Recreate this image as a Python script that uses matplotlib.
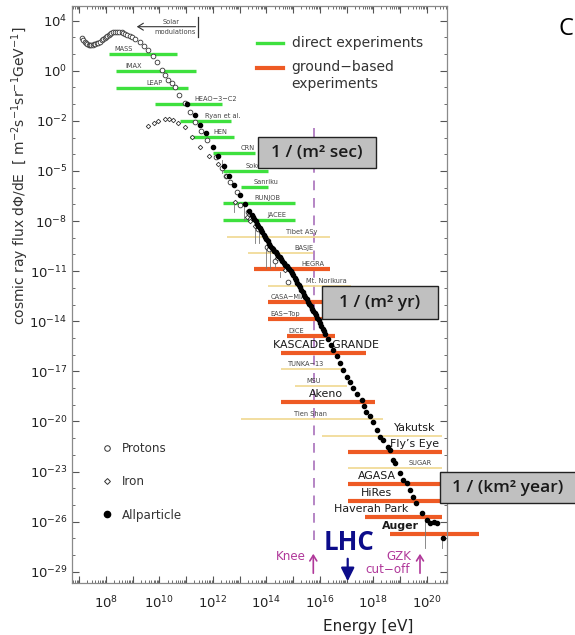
import matplotlib
matplotlib.use("Agg")
import matplotlib.pyplot as plt
import numpy as np
from matplotlib.patches import Rectangle
from matplotlib.lines import Line2D

plt.rcParams['font.family'] = ['DejaVu Sans']

# ---------------- data (log10 values) ----------------
proton_logE = [7.09, 7.15, 7.2, 7.25, 7.3, 7.35, 7.40, 7.45, 7.5, 7.55, 7.6, 7.65, 7.7, 7.78,
               7.85, 7.9, 7.95, 8.0, 8.05, 8.1, 8.15, 8.2, 8.27, 8.34, 8.42, 8.5, 8.58, 8.65,
               8.72, 8.8, 8.88, 8.96, 9.1, 9.27, 9.42, 9.58, 9.75, 9.90, 10.08, 10.2, 10.33,
               10.45, 10.58, 10.74, 10.95, 11.14, 11.33, 11.55, 11.76, 12.11, 12.32, 12.48,
               12.64, 12.88, 13.0, 13.32, 13.38, 13.63, 13.7, 14.03, 14.08, 14.32, 14.82]
proton_logF = [2.95, 2.85, 2.72, 2.65, 2.58, 2.55, 2.54, 2.55, 2.56, 2.6, 2.62, 2.66, 2.68, 2.74,
               2.82, 2.9, 2.98, 3.05, 3.1, 3.15, 3.2, 3.25, 3.3, 3.34, 3.33, 3.32, 3.3, 3.25,
               3.2, 3.15, 3.1, 3.04, 2.9, 2.74, 2.5, 2.25, 1.9, 1.54, 1.05, 0.75, 0.45,
               0.25, 0.01, -0.45, -0.95, -1.45, -2.05, -2.6, -3.14, -4.14, -4.84, -5.3,
               -5.64, -6.24, -7.04, -7.44, -7.83, -8.23, -8.5, -9.53, -9.7, -10.37, -11.63]

iron_logE = [9.58, 9.8, 9.96, 10.2, 10.35, 10.5, 10.7, 10.95, 11.2, 11.51, 11.86, 12.2,
             12.5, 12.84, 13.26, 13.4, 13.57, 14.07, 14.4, 14.7]
iron_logF = [-2.3, -2.1, -1.99, -1.9, -1.9, -1.95, -2.1, -2.35, -2.95, -3.54, -4.08, -4.6,
             -5.3, -6.84, -7.74, -8.0, -8.3, -9.13, -10.2, -10.9]

all_logE = [11.02, 11.33, 11.51, 11.73, 12.01, 12.2, 12.4, 12.6, 12.8, 13.0, 13.2, 13.35,
            13.45, 13.5, 13.55, 13.6, 13.65, 13.7, 13.75, 13.8, 13.85, 13.9, 13.95, 14.0,
            14.05, 14.1, 14.15, 14.2, 14.25, 14.3, 14.35, 14.4, 14.45, 14.5, 14.55, 14.6,
            14.65, 14.7, 14.75, 14.8, 14.85, 14.9, 14.95, 15.0, 15.05, 15.1, 15.15, 15.2,
            15.25, 15.3, 15.35, 15.4, 15.45, 15.5, 15.55, 15.6, 15.65, 15.7, 15.75, 15.8,
            15.85, 15.9, 15.95, 16.0, 16.05, 16.1, 16.15, 16.2, 16.3, 16.4, 16.5, 16.62,
            16.74, 16.87, 17.0, 17.12, 17.24, 17.4, 17.56, 17.65, 17.74, 17.87, 17.99,
            18.12, 18.24, 18.37, 18.55, 18.62, 18.74, 18.8, 18.99, 19.11, 19.24, 19.36,
            19.49, 19.61, 19.8, 19.99, 20.12, 20.25, 20.36, 20.61]
all_logF = [-0.99, -1.65, -2.25, -2.74, -3.54, -4.1, -4.7, -5.3, -5.85, -6.45, -6.95, -7.4,
            -7.65, -7.78, -7.9, -8.0, -8.15, -8.28, -8.42, -8.55, -8.68, -8.82, -8.96, -9.1,
            -9.22, -9.36, -9.48, -9.6, -9.69, -9.78, -9.88, -9.97, -10.08, -10.18, -10.28,
            -10.38, -10.49, -10.6, -10.69, -10.78, -10.87, -10.97, -11.1, -11.25, -11.4,
            -11.55, -11.68, -11.82, -11.96, -12.1, -12.25, -12.4, -12.54, -12.68, -12.82,
            -12.97, -13.1, -13.24, -13.37, -13.5, -13.64, -13.78, -13.94, -14.1, -14.27,
            -14.45, -14.6, -14.78, -15.08, -15.4, -15.72, -16.1, -16.51, -16.9, -17.31,
            -17.65, -18.0, -18.35, -18.71, -19.05, -19.41, -19.7, -20.01, -20.51, -20.9,
            -21.11, -21.51, -21.71, -22.31, -22.5, -23.1, -23.5, -23.7, -24.1, -24.5,
            -24.9, -25.5, -25.9, -26.1, -26.0, -26.1, -27.0]

# error bars: logE, top, bottom
err_logE = [12.32, 12.78, 13.16, 13.57, 13.72, 14.0, 14.13, 14.32, 14.5, 19.93, 20.57]
err_top = [-4.34, -6.84, -7.14, -8.23, -8.53, -9.53, -9.53, -10.33, -11.03, -25.9, -27.0]
err_bot = [-5.12, -7.44, -7.94, -9.33, -9.33, -10.83, -10.83, -10.73, -11.33, -27.6, -27.6]

# experiments: name, kind, logE min, logE max, logF, label logE
exp_names = ["MASS", "IMAX", "LEAP", "HEAO\u22123\u2212C2", "Ryan et al.", "HEN", "CRN",
             "Sokol", "Sanriku", "RUNJOB", "JACEE", "Tibet AS\u03b3", "BASJE", "HEGRA",
             "Mt. Norikura", "CASA\u2212MIA", "EAS\u2212Top", "DICE", "KASCADE  GRANDE",
             "TUNKA\u221213", "MSU", "Akeno", "Tien Shan", "Yakutsk", "Fly\u2019s Eye",
             "SUGAR", "AGASA", "HiRes", "Haverah Park", "Auger"]
exp_kind = ["d", "d", "d", "d", "d", "d", "d", "d", "d", "d", "d", "o", "o", "g",
            "o", "g", "g", "g", "g", "o", "o", "g", "o", "o", "g", "o", "g", "g", "g", "g"]
exp_emin = [8.12, 8.37, 8.37, 9.83, 10.77, 11.14, 11.99, 12.36, 13.05, 12.36, 12.36, 12.53,
            13.32, 13.54, 14.07, 14.07, 14.07, 14.75, 14.54, 14.54, 15.07, 14.54, 13.03,
            16.06, 17.06, 17.06, 17.06, 17.06, 17.68, 18.62]
exp_emax = [10.64, 11.35, 11.05, 12.35, 12.66, 12.78, 13.58, 14.04, 14.07, 15.07, 15.07, 16.37,
            15.75, 16.37, 17.18, 16.5, 16.07, 16.56, 17.74, 16.87, 17.0, 18.06, 18.37,
            20.55, 20.55, 20.55, 20.55, 20.55, 20.55, 21.96]
exp_logF = [1.98, 0.99, -0.01, -1.0, -2.0, -2.98, -3.94, -4.98, -5.94, -6.9, -7.93, -8.93,
            -9.89, -10.89, -11.87, -12.83, -13.88, -14.88, -15.88, -16.87, -17.86, -18.83,
            -19.83, -20.85, -21.84, -22.8, -23.76, -24.74, -25.74, -26.76]
exp_label_E = [8.65, 9.02, 9.8, 12.11, 12.36, 12.28, 13.28, 13.57, 13.98, 14.04, 14.4, 15.31,
               15.41, 15.75, 16.25, 14.82, 14.69, 15.13, 16.22, 15.48, 15.78, 16.21, 15.65,
               19.55, 19.55, 19.74, 18.12, 18.1, 17.93, 19.01]
big_labels = {"KASCADE  GRANDE", "Akeno", "Yakutsk", "Fly\u2019s Eye", "AGASA", "HiRes",
              "Haverah Park", "Auger"}

xtick_exp = [8, 10, 12, 14, 16, 18, 20]
ytick_exp = [4, 1, -2, -5, -8, -11, -14, -17, -20, -23, -26, -29]
ytick_labels = ["$10^{4}$", "$10^{0}$", "$10^{-2}$", "$10^{-5}$", "$10^{-8}$", "$10^{-11}$",
                "$10^{-14}$", "$10^{-17}$", "$10^{-20}$", "$10^{-23}$", "$10^{-26}$", "$10^{-29}$"]

knee_logE = 15.76
gzk_logE = 19.74
lhc_logE = 17.04

# ---------------- figure ----------------
W, H = 575, 635
fig = plt.figure(figsize=(W / 100, H / 100), dpi=100)
L, R, T, B = 72.3, 446.7, 6.0, 583.3
ax = fig.add_axes([L / W, 1 - B / H, (R - L) / W, (B - T) / H])
ax.set_xscale('log')
ax.set_yscale('log')
ax.set_xlim(10 ** 6.74, 10 ** 20.74)
ax.set_ylim(10 ** -29.69, 10 ** 4.88)


def P(v):
    return np.power(10.0, np.asarray(v, dtype=float))


def fx(x):
    return x / W


def fy(y):
    return 1 - y / H


spine_col = '#8a8a8a'
for s in ax.spines.values():
    s.set_color(spine_col)
    s.set_linewidth(0.9)

ax.set_xticks(P(range(7, 21)))
ax.set_xticklabels(["$10^{%d}$" % e if e in xtick_exp else "" for e in range(7, 21)])
ax.xaxis.set_minor_locator(matplotlib.ticker.LogLocator(base=10, subs=np.arange(2, 10), numticks=40))
ax.xaxis.set_minor_formatter(matplotlib.ticker.NullFormatter())
ax.set_yticks(P(ytick_exp))
ax.set_yticklabels(ytick_labels)
ax.yaxis.set_minor_locator(matplotlib.ticker.FixedLocator(P(range(-29, 5))))
ax.yaxis.set_minor_formatter(matplotlib.ticker.NullFormatter())
ax.tick_params(which='both', direction='in', top=True, right=True, color='#555555',
               labelsize=9.5, labelcolor='#222222')
ax.tick_params(which='major', length=5, width=0.8)
ax.tick_params(which='minor', length=2.5, width=0.6)
ax.tick_params(axis='x', which='major', pad=8)

# experiments
colors = {"d": "#3ee03e", "g": "#ee5a24", "o": "#f0d890"}
widths = {"d": 2.4, "g": 3.0, "o": 1.2}
for name, k, e0, e1, f, le in zip(exp_names, exp_kind, exp_emin, exp_emax, exp_logF, exp_label_E):
    ax.plot(P([e0, e1]), P([f, f]), color=colors[k], lw=widths[k], solid_capstyle='butt',
            clip_on=False, zorder=2)
    big = name in big_labels
    ax.text(10 ** le, 10 ** (f + (0.18 if big else 0.12)), name, ha='center', va='bottom',
            fontsize=7.9 if big else 4.8, color='#1a1a1a' if big else '#444444',
            fontweight='bold' if name == "Auger" else 'normal', zorder=3)

# error bars
for e, t, b in zip(err_logE, err_top, err_bot):
    ax.plot(P([e, e]), P([t, b]), color='#777777', lw=0.6, zorder=3)

# spectra
ax.plot(P(proton_logE), P(proton_logF), 'o', mfc='white', mec='#333333', ms=3.4, mew=0.6, zorder=4)
ax.plot(P(iron_logE), P(iron_logF), 'D', mfc='white', mec='#333333', ms=2.3, mew=0.6, zorder=4)
ax.plot(P(all_logE), P(all_logF), 'o', color='black', ms=3.0, zorder=5)

# knee dashed line
ax.plot(P([knee_logE, knee_logE]), P([-2.4, -27.1]), color='#b585c5', lw=1.4,
        dashes=(5, 4), zorder=1)

# ---------------- annotations in pixel space ----------------
def ftext(x, y, s, **kw):
    fig.text(fx(x), fy(y), s, **kw)


def fline(xs, ys, **kw):
    fig.add_artist(Line2D([fx(v) for v in xs], [fy(v) for v in ys], **kw))


# solar modulations
fig.add_artist(matplotlib.patches.FancyArrowPatch((fx(198.3), fy(26.7)), (fx(134), fy(26.7)),
               transform=fig.transFigure, arrowstyle='->,head_length=4,head_width=2.5',
               color='#333333', lw=0.8))
fline([198.3, 198.3], [16.7, 37.3], color='#333333', lw=0.9)
ftext(171, 22, "Solar", fontsize=4.8, color='#444444', ha='center', va='center')
ftext(175, 32, "modulations", fontsize=4.8, color='#444444', ha='center', va='center')

# legend lines
fline([256.7, 283.3], [42.7, 42.7], color=colors['d'], lw=2.4)
fline([256.7, 283.3], [67.7, 67.7], color=colors['g'], lw=3.0)
ftext(291.5, 42.5, "direct experiments", fontsize=10.0, color='#333333', va='center')
ftext(291.5, 67.5, "ground\u2212based", fontsize=10.0, color='#333333', va='center')
ftext(291.5, 84, "experiments", fontsize=10.0, color='#333333', va='center')

# marker legend
fig.add_artist(Line2D([fx(106.7)], [fy(448.3)], marker='o', mfc='white', mec='#333333', ms=4, mew=0.7))
fig.add_artist(Line2D([fx(106.7)], [fy(481)], marker='D', mfc='white', mec='#333333', ms=3, mew=0.7))
fig.add_artist(Line2D([fx(106.7)], [fy(514.3)], marker='o', color='black', ms=4.5))
ftext(121.5, 449, "Protons", fontsize=8.6, color='#333333', va='center')
ftext(121.5, 481.5, "Iron", fontsize=8.6, color='#333333', va='center')
ftext(121.5, 515, "Allparticle", fontsize=8.6, color='#333333', va='center')

# knee / gzk arrows
mag = '#b0389a'
for xpx in (313.3, 420.0):
    fig.add_artist(matplotlib.patches.FancyArrowPatch((fx(xpx), fy(576)), (fx(xpx), fy(551)),
                   transform=fig.transFigure, arrowstyle='->,head_length=4,head_width=2.5',
                   color=mag, lw=1.2))
ftext(306, 557, "Knee", fontsize=8.6, color=mag, ha='right', va='center')
ftext(398.5, 557, "GZK", fontsize=8.6, color=mag, ha='center', va='center')
ftext(387.5, 569.5, "cut\u2212off", fontsize=8.6, color=mag, ha='center', va='center')

# LHC
navy = '#0c0c8a'
ftext(349, 543, "LHC", fontsize=18.5, color=navy, fontweight='bold', ha='center', va='center',
      family=['Open Sans', 'DejaVu Sans'])
fig.add_artist(matplotlib.patches.FancyArrowPatch((fx(347.7), fy(556)), (fx(347.7), fy(584)),
               transform=fig.transFigure, arrowstyle='-|>,head_length=8,head_width=4',
               color=navy, lw=1.6))

# gray boxes
boxes = [(258, 376, 137, 168, "1 / (m\u00b2 sec)"),
         (321.7, 438.3, 286, 319.3, "1 / (m\u00b2 yr)"),
         (440, 575.5, 471.7, 503.3, "1 / (km\u00b2 year)")]
for x0, x1, y0, y1, s in boxes:
    fig.add_artist(Rectangle((fx(x0), fy(y1)), (x1 - x0) / W, (y1 - y0) / H,
                             transform=fig.transFigure, facecolor='#c0c0c0',
                             edgecolor='#222222', lw=1.0, zorder=10))
    fig.text(fx((x0 + x1) / 2), fy((y0 + y1) / 2 + 0.5), s, fontsize=12.5, fontweight='semibold',
             ha='center', va='center', color='#1a1a1a', zorder=11,
             family=['Open Sans', 'DejaVu Sans'])

# axis labels
ftext(20, 176, "cosmic ray flux d\u03a6/dE  [ m$^{-2}$s$^{-1}$sr$^{-1}$GeV$^{-1}$]",
      rotation=90, fontsize=10, color='#333333', ha='center', va='center')
ftext(368, 627, "Energy [eV]", fontsize=11, color='#222222', ha='center', va='center')

# cut-off title letter
ftext(559, 29, "C", fontsize=17, color='black', ha='left', va='center',
      family=['Open Sans', 'DejaVu Sans'])

fig.savefig("out.png", dpi=100)
